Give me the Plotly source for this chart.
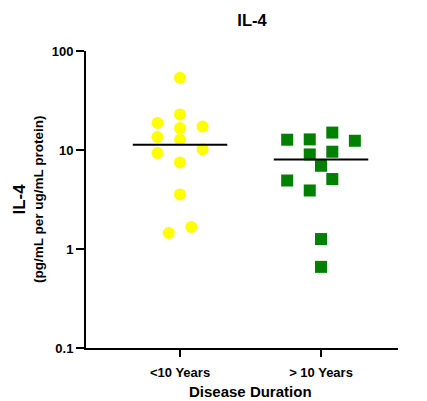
import plotly.graph_objects as go

categories = ["<10 Years", "> 10 Years"]
# group 1 (<10 Years)
g1_values = [53.6, 22.8, 18.7, 16.7, 17.3, 13.5, 12.7, 9.33, 10.2, 7.48, 3.55, 1.45, 1.67]
g1_slots = [0, 0, -2, 0, 2, -2, 0, -2, 2, 0, 0, -1, 1]
g1_line = 11.3
# group 2 (> 10 Years)
g2_values = [12.7, 12.8, 15.0, 12.4, 9.02, 9.61, 6.93, 4.92, 5.09, 3.90, 1.26, 0.66]
g2_slots = [-3, -1, 1, 3, -1, 1, 0, -3, 1, -1, 0, 0]
g2_line = 8.03

tick_vals = [0.1, 1, 10, 100]
tick_text = ["0.1", "1", "10", "100"]

slot_w = 0.08
half_len = 0.335

FONT = "Liberation Sans, Arial, sans-serif"

fig = go.Figure()
fig.add_trace(go.Scatter(
    x=[0 + s * slot_w for s in g1_slots], y=g1_values, mode="markers",
    marker=dict(symbol="circle", size=12, color="#FFFF00", line=dict(width=0)),
    showlegend=False))
fig.add_trace(go.Scatter(
    x=[1 + s * slot_w for s in g2_slots], y=g2_values, mode="markers",
    marker=dict(symbol="square", size=12, color="#008000", line=dict(width=0)),
    showlegend=False))
for i, v in enumerate([g1_line, g2_line]):
    fig.add_trace(go.Scatter(
        x=[i - half_len, i + half_len], y=[v, v], mode="lines",
        line=dict(color="black", width=2), showlegend=False))

fig.update_layout(
    width=427, height=401,
    margin=dict(l=86, r=29, t=51, b=53),
    plot_bgcolor="white", paper_bgcolor="white",
    font=dict(family=FONT, color="black"),
    title=dict(text="IL-4", x=252 / 427, xanchor="center", y=1 - 20 / 401, yanchor="middle",
               font=dict(size=16.5, weight="bold", family=FONT)),
)
fig.update_xaxes(
    range=[-0.667, 1.546], tickvals=[0, 1], ticktext=categories,
    showline=True, linecolor="black", linewidth=2, ticks="outside", ticklen=7,
    tickwidth=2, tickcolor="black", showgrid=False, zeroline=False,
    tickfont=dict(size=13, weight="bold", family=FONT), ticklabelstandoff=4,
)
fig.update_yaxes(
    type="log", range=[-1, 2], tickvals=tick_vals, ticktext=tick_text,
    showline=True, linecolor="black", linewidth=2, ticks="outside", ticklen=8,
    tickwidth=2, tickcolor="black", showgrid=False, zeroline=False,
    tickfont=dict(size=13, weight="bold", family=FONT),
)
fig.add_annotation(text="Disease Duration", xref="paper", yref="paper", x=0.526, y=-43 / 297,
                   xanchor="center", yanchor="middle", showarrow=False,
                   font=dict(size=15, weight="bold", family=FONT))
fig.add_annotation(text="IL-4", xref="paper", yref="paper", x=-0.2147, y=0.5,
                   xanchor="center", yanchor="middle", textangle=-90, showarrow=False,
                   font=dict(size=17, weight="bold", family=FONT))
fig.add_annotation(text="(pg/mL per ug/mL protein)", xref="paper", yref="paper", x=-0.152, y=0.5,
                   xanchor="center", yanchor="middle", textangle=-90, showarrow=False,
                   font=dict(size=13.5, weight="bold", family=FONT))

fig.write_html("out.html")
